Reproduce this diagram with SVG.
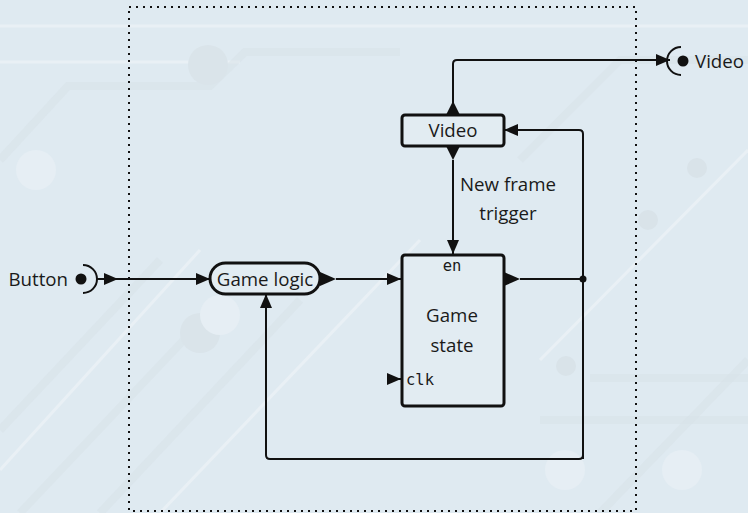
<svg xmlns="http://www.w3.org/2000/svg" width="748" height="513" viewBox="0 0 748 513">
<defs>
<style>
.bg-line{fill:none;stroke:#d8e2e8;stroke-width:8;opacity:0.5}
.bg-thin{fill:none;stroke:#e9f0f5;stroke-width:3}
.wire{fill:none;stroke:#111;stroke-width:2;stroke-linejoin:round}
.box{fill:#e2ecf2;stroke:#111;stroke-width:3}
.lbl{font-family:"Open Sans","Noto Sans","DejaVu Sans",sans-serif;font-size:18.7px;fill:#1a1a1a}
.mono{font-family:"DejaVu Sans Mono","Liberation Mono",monospace;font-size:15.5px;fill:#1a1a1a}
.head{fill:#111}
</style>
<marker id="arr" viewBox="0 0 14 12" refX="14" refY="6" markerWidth="14" markerHeight="12" markerUnits="userSpaceOnUse" orient="auto">
<path d="M0,0 L14,6 L0,12 Z" fill="#111"/>
</marker>
</defs>
<rect width="748" height="513" fill="#dfeaf1"/>
<g id="background">
<path class="bg-thin" d="M0,26 H748"/>
<path class="bg-thin" d="M0,62 H240"/>
<path class="bg-line" d="M0,160 L68,86 H210 L245,52 H400"/>
<path class="bg-line" d="M100,513 L300,300"/>
<path class="bg-line" d="M20,513 L250,270"/>
<path class="bg-line" d="M0,430 L160,260"/>
<path class="bg-thin" d="M0,470 L200,250"/>
<path class="bg-thin" d="M160,513 L420,240"/>
<path class="bg-line" d="M540,420 H748"/>
<path class="bg-line" d="M590,378 H748"/>
<path class="bg-line" d="M600,513 L748,360"/>
<path class="bg-thin" d="M540,360 L748,150"/>
<path class="bg-line" d="M520,160 L620,60 H748"/>
<circle cx="36" cy="170" r="20" fill="#e6eef4"/>
<circle cx="208" cy="65" r="20" fill="#dae4ea"/>
<circle cx="566" cy="366" r="10" fill="#d9e3e9"/>
<circle cx="565" cy="470" r="20" fill="#e6eef4"/>
<circle cx="682" cy="470" r="20" fill="#e6eef4"/>
<circle cx="697" cy="168" r="10" fill="#d9e3e9"/>
<circle cx="648" cy="220" r="10" fill="#d9e3e9"/>
<circle cx="200" cy="333" r="20" fill="#dae4ea"/>
<circle cx="220" cy="315" r="20" fill="#e6eef4"/>
</g>
<rect id="boundary" x="129" y="7" width="507" height="504" fill="none" stroke="#111" stroke-width="2" stroke-dasharray="2 5"/>
<g id="connectors">
<path class="wire" d="M96,279 H118" marker-end="url(#arr)"/>
<path class="wire" d="M118,279 H210" marker-end="url(#arr)"/>
<path class="wire" d="M336,279 H401" marker-end="url(#arr)"/>
<path class="wire" d="M388,379 H401" marker-end="url(#arr)"/>
<path class="wire" d="M520,279 H583 M583,459 V134 Q583,130 579,130 H504" marker-end="url(#arr)"/>
<path class="wire" d="M583,279 V455 Q583,459 579,459 H270 Q266,459 266,455 V294" marker-end="url(#arr)"/>
<path class="wire" d="M453,103 V64 Q453,60 457,60 H670" marker-end="url(#arr)"/>
<path class="wire" d="M453,160 V254" marker-end="url(#arr)"/>
<circle cx="583" cy="279" r="3.5" class="head"/>
<text class="lbl" x="508" y="191" text-anchor="middle">New frame</text>
<text class="lbl" x="508" y="220" text-anchor="middle">trigger</text>
</g>
<g id="port-button">
<circle cx="81" cy="279" r="5.5" class="head"/>
<path d="M83,265 A14,14 0 0 1 83,293" fill="none" stroke="#111" stroke-width="2"/>
<text class="lbl" x="68" y="286" text-anchor="end">Button</text>
</g>
<g id="port-video">
<circle cx="683" cy="61" r="5.5" class="head"/>
<path d="M681,47 A14,14 0 0 0 681,75" fill="none" stroke="#111" stroke-width="2"/>
<text class="lbl" x="695" y="68">Video</text>
</g>
<g id="game-logic">
<rect class="box" x="210" y="263" width="110" height="31" rx="15.5" stroke-width="2"/>
<path class="head" d="M320,272 L336,279 L320,286 Z"/>
<text class="lbl" x="265" y="286" text-anchor="middle">Game logic</text>
</g>
<g id="game-state">
<rect class="box" x="402" y="255" width="102" height="151" rx="3"/>
<path class="head" d="M504,272 L520,279 L504,286 Z"/>
<text class="mono" x="452" y="271" text-anchor="middle">en</text>
<text class="lbl" x="452" y="322" text-anchor="middle">Game</text>
<text class="lbl" x="452" y="352" text-anchor="middle">state</text>
<text class="mono" x="406" y="385">clk</text>
</g>
<g id="video">
<rect class="box" x="402" y="115" width="102" height="31" rx="3"/>
<path class="head" d="M446,115 L453,101 L460,115 Z"/>
<path class="head" d="M446,146 L453,160 L460,146 Z"/>
<text class="lbl" x="453" y="137" text-anchor="middle">Video</text>
</g>
</svg>
